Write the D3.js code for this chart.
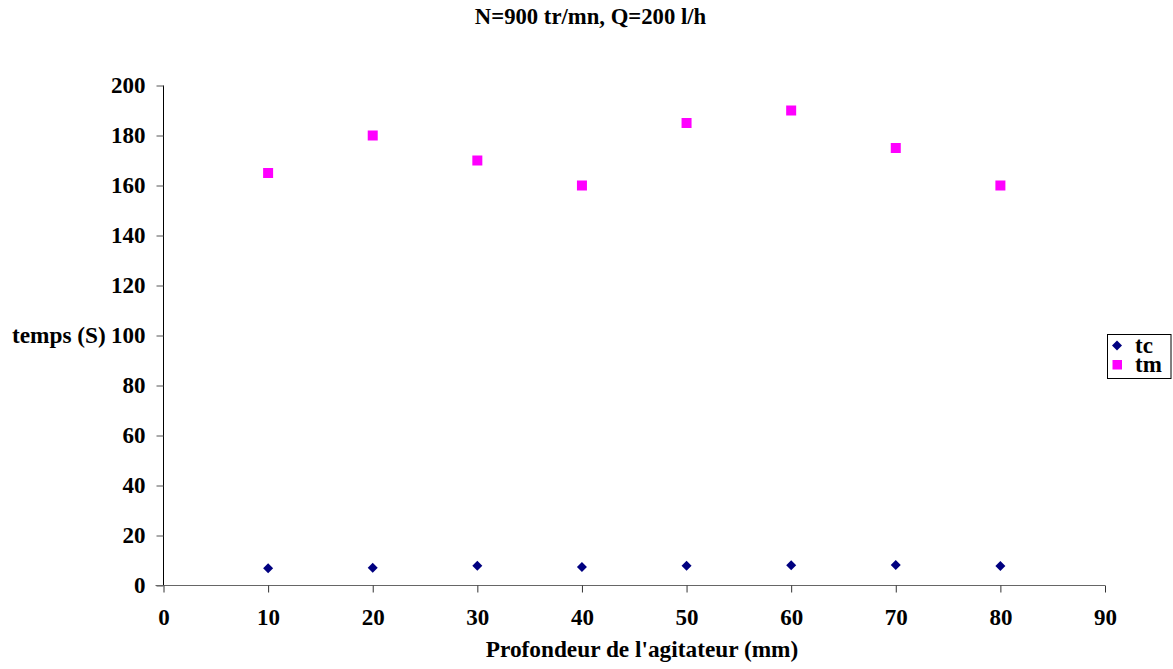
<!DOCTYPE html>
<html>
<head>
<meta charset="utf-8">
<script src="https://cdn.jsdelivr.net/npm/d3@7"></script>
<style>
  html, body { margin: 0; padding: 0; background: #fff; }
</style>
</head>
<body>
<svg id="chart" width="1173" height="669"></svg>
<script>
// Depth of the stirrer (mm) and measured times (s)
const depths = [10, 20, 30, 40, 50, 60, 70, 80];
const tcValues = [6.9, 7.1, 7.9, 7.4, 7.9, 8.1, 8.2, 7.8];
const tmValues = [165, 180, 170, 160, 185, 190, 175, 160];
const xTicks = [0, 10, 20, 30, 40, 50, 60, 70, 80, 90];
const yTicks = [0, 20, 40, 60, 80, 100, 120, 140, 160, 180, 200];
const seriesNames = ["tc", "tm"];
const seriesColors = ["#000080", "#ff00ff"];

const FONT = "Liberation Serif";
const svg = d3.select("#chart");
const plotLeft = 163.5, plotRight = 1105, plotTop = 85.5, plotBottom = 585.5;

const x = d3.scaleLinear().domain([0, 90]).range([plotLeft, plotRight]);
const y = d3.scaleLinear().domain([0, 200]).range([plotBottom, plotTop]);

function label(sel, size) {
  return sel.attr("font-family", FONT).attr("font-weight", "bold")
    .attr("font-size", size).attr("fill", "#000");
}

// Title
label(svg.append("text"), 22.7)
  .attr("x", 590.5).attr("y", 24)
  .attr("text-anchor", "middle")
  .text("N=900 tr/mn, Q=200 l/h");

// Y axis
const yAxis = svg.append("g")
  .attr("transform", `translate(${plotLeft},0)`)
  .call(d3.axisLeft(y).tickValues(yTicks).tickSize(7).tickPadding(11));
yAxis.attr("font-family", FONT);
yAxis.select(".domain").attr("stroke", "#000").attr("d", `M0,${plotTop}V${plotBottom}`);
yAxis.selectAll(".tick line").attr("stroke", "#555");
label(yAxis.selectAll(".tick text"), 23).attr("dy", "0.32em");

// X axis
const xAxis = svg.append("g")
  .attr("transform", `translate(0,${plotBottom})`)
  .call(d3.axisBottom(x).tickValues(xTicks).tickSize(7).tickPadding(16));
xAxis.attr("font-family", FONT);
xAxis.select(".domain").attr("stroke", "#666").attr("d", `M${plotLeft - 8},0H${plotRight}`);
xAxis.selectAll(".tick line").attr("stroke", "#333");
label(xAxis.selectAll(".tick text"), 23);

// Axis titles
label(svg.append("text"), 23.3)
  .attr("x", 642).attr("y", 657)
  .attr("text-anchor", "middle")
  .text("Profondeur de l'agitateur (mm)");

label(svg.append("text"), 23.3)
  .attr("x", 12).attr("y", 343)
  .text("temps (S)");

// tc: navy diamonds (squares turned 45 degrees)
const diamond = d3.symbol().type(d3.symbolSquare).size(50);
svg.append("g").selectAll("path")
  .data(depths.map((d, i) => [d, tcValues[i]]))
  .join("path")
  .attr("d", diamond)
  .attr("transform", d => `translate(${x(d[0])},${y(d[1])}) rotate(45)`)
  .attr("fill", seriesColors[0]);

// tm: magenta squares
svg.append("g").selectAll("rect")
  .data(depths.map((d, i) => [d, tmValues[i]]))
  .join("rect")
  .attr("x", d => x(d[0]) - 5)
  .attr("y", d => y(d[1]) - 5)
  .attr("width", 10).attr("height", 10)
  .attr("fill", seriesColors[1]);

// Legend
const lg = svg.append("g").attr("transform", "translate(1107,334)");
lg.append("rect")
  .attr("x", 0.5).attr("y", 0.5)
  .attr("width", 63.5).attr("height", 44)
  .attr("fill", "#fff").attr("stroke", "#000");
seriesNames.forEach((name, i) => {
  const cy = 11.5 + i * 19;
  if (i === 0) {
    lg.append("path")
      .attr("d", d3.symbol().type(d3.symbolSquare).size(50))
      .attr("transform", `translate(10,${cy}) rotate(45)`)
      .attr("fill", seriesColors[i]);
  } else {
    lg.append("rect")
      .attr("x", 5.5).attr("y", cy - 4.5)
      .attr("width", 9.5).attr("height", 9.5)
      .attr("fill", seriesColors[i]);
  }
  label(lg.append("text"), 23)
    .attr("x", 28).attr("y", cy + 7.3)
    .text(name);
});
</script>
</body>
</html>
